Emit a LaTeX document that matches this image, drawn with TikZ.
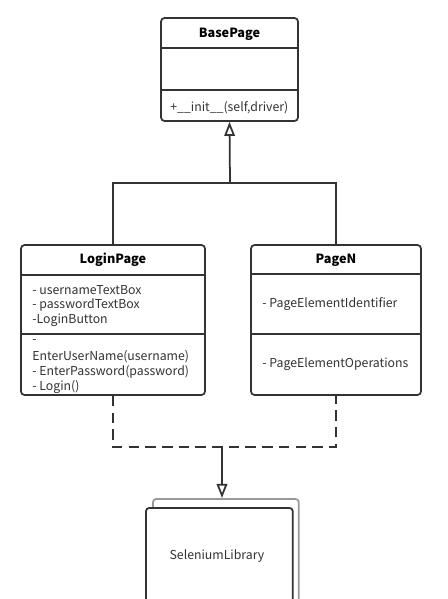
\documentclass[tikz,border=0pt]{standalone}
\usepackage{fontspec}
\setmainfont{Noto Sans CJK SC}
\usetikzlibrary{arrows.meta}
\definecolor{umlline}{HTML}{333333}

\tikzset{
	classbox/.style={draw=umlline, line width=1pt, rounded corners=2pt, fill=white, inner sep=0pt},
	member/.style={anchor=west, inner sep=0pt, font=\fontsize{7}{8}\selectfont, text=umlline},
	title/.style={inner sep=0pt, font=\fontsize{7.2}{8}\bfseries, text=black},
	inherit/.style={-{Triangle[open,length=8pt,width=6pt]}, line width=1pt, draw=umlline},
}

\begin{document}
\begin{tikzpicture}[x=0.02cm, y=-0.02cm]
		\useasboundingbox (0,0) rectangle (447,599);
		
		% BasePage
		\node[classbox, minimum width=2.74cm, minimum height=2.06cm] (base) at (229.5,69.5) {};
		\node[title] (basetitle) at (229.5,34) {BasePage};
		\draw[line width=1pt, umlline] (base.west |- 0,48)--(base.east |- 0,48);
		\draw[line width=1pt, umlline] (base.west |- 0,90)--(base.east |- 0,90);
		\node[member] (init) at (170,108) {+\_\_init\_\_(self,driver)};
		
		% LoginPage
		\node[classbox, minimum width=3.68cm, minimum height=3cm] (login) at (113,320) {};
		\node[title] (logintitle) at (113,260) {LoginPage};
		\draw[line width=1pt, umlline] (login.west |- 0,275)--(login.east |- 0,275);
		\draw[line width=1pt, umlline] (login.west |- 0,334)--(login.east |- 0,334);
		\node[member] (l1) at (32,290) {- usernameTextBox};
		\node[member] (l2) at (32,305) {- passwordTextBox};
		\node[member] (l3) at (32,320) {-LoginButton};
		\node[member] (l4) at (32,342) {-};
		\node[member] (l5) at (32,357) {EnterUserName(username)};
		\node[member] (l6) at (32,372) {- EnterPassword(password)};
		\node[member] (l7) at (32,387) {- Login()};
		
		% PageN
		\node[classbox, minimum width=3.4cm, minimum height=3cm] (pagen) at (336,320) {};
		\node[title] (pagentitle) at (336,260) {PageN};
		\draw[line width=1pt, umlline] (pagen.west |- 0,274)--(pagen.east |- 0,274);
		\draw[line width=1pt, umlline] (pagen.west |- 0,334)--(pagen.east |- 0,334);
		\node[member] (p1) at (262,304) {- PageElementIdentifier};
		\node[member] (p2) at (262,364) {- PageElementOperations};
		
		% generalisation
		\coordinate (fork) at (230,183);
		\draw[line width=1pt, umlline] (login.north) |- (fork) -| (pagen.north);
		\draw[inherit] (fork)--(base.south);
		
		% SeleniumLibrary
		\begin{scope}
			\clip (0,0) rectangle (447,599);
			\node[classbox, draw=black!40, minimum width=2.92cm, minimum height=2.4cm, anchor=north west] (libback) at (152,498) {};
			\node[classbox, draw=umlline, minimum width=2.94cm, minimum height=2.4cm, anchor=north west] (lib) at (145,507) {};
		\end{scope}
		\node[member, anchor=center] (libtext) at (217,556) {SeleniumLibrary};
		
		% dependency
		\coordinate (dep) at (222,447);
		\draw[line width=1pt, umlline, dash pattern=on 6pt off 3.5pt] (login.south) |- (dep) -| (pagen.south);
		\draw[inherit] (dep)--(libback.north -| dep);
	\end{tikzpicture}
\end{document}
